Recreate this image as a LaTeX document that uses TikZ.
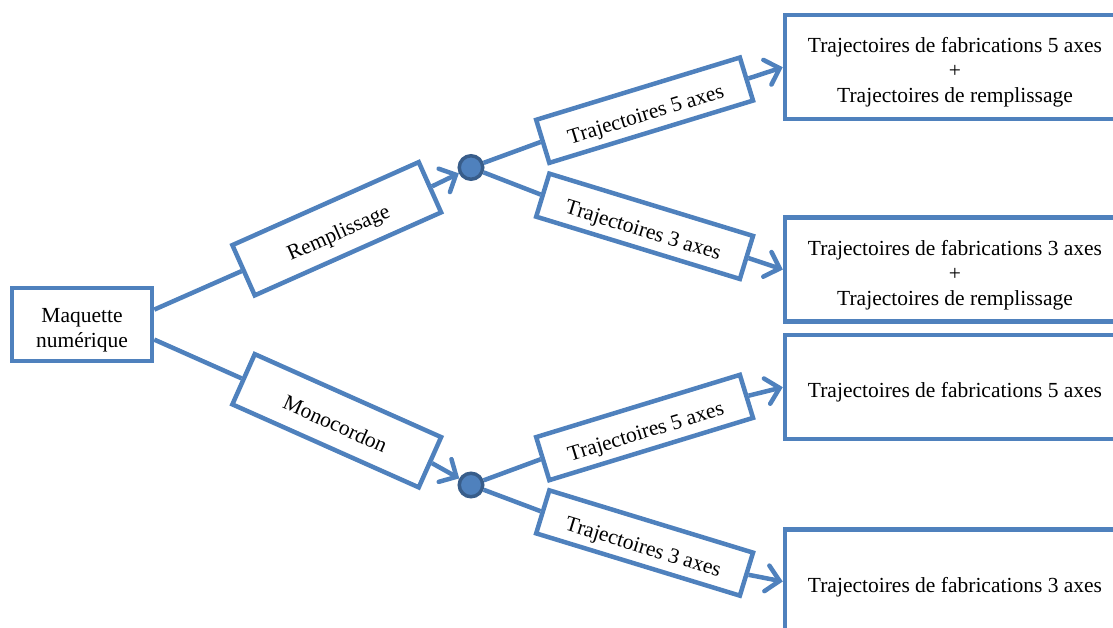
\documentclass[tikz,border=0pt]{standalone}
\usepackage{fontspec}
\setmainfont{Liberation Serif}
\usetikzlibrary{arrows.meta}
\definecolor{lblue}{HTML}{4F81BD}
\definecolor{dblue}{HTML}{385D8A}
\newcommand\wdtopstrut{\rule[-0.216em]{0pt}{\dimexpr1.107em+7pt\relax}}
\newcommand\wdstrut{\rule[-0.216em]{0pt}{1.107em}}
\begin{document}
\begin{tikzpicture}[x=1pt,y=-1pt,
  box/.style={draw=lblue,line width=4.5pt,fill=white,inner sep=0pt,align=center,font=\fontsize{21.5}{25}\selectfont,
    execute at begin node=\wdtopstrut, execute at end node=\wdstrut},
  rbox/.style={box,minimum width=204pt,minimum height=55pt},
  tbox/.style={box,minimum width=213pt,minimum height=45pt},
  fbox/.style={box,minimum width=340pt,minimum height=104pt},
  link/.style={draw=lblue,line width=4.5pt},
  arr/.style={link,-{Straight Barb[length=13pt,width=26pt,line cap=round]}},
  dotn/.style={circle,draw=dblue,fill=lblue,line width=3.5pt,minimum size=23.5pt,inner sep=0pt}]
\useasboundingbox (0,0) rectangle (1113,628);
\clip (0,0) rectangle (1113,628);
\node[box,minimum width=140pt,minimum height=73pt] (maq) at (82,324.6) {\wdtopstrut Maquette\\numérique\wdstrut};
\node[rbox,rotate=24] (rem) at (336.75,228.75) {Remplissage};
\node[rbox,rotate=-24] (mono) at (336.75,420.75) {Monocordon};
\node[dotn] (d1) at (471,167.5) {};
\node[dotn] (d2) at (471,485) {};
\node[tbox,rotate=17] (t5a) at (644.6,110.2) {Trajectoires 5 axes};
\node[tbox,rotate=-17] (t3a) at (644.6,226.3) {Trajectoires 3 axes};
\node[tbox,rotate=17] (t5b) at (644.6,427.5) {Trajectoires 5 axes};
\node[tbox,rotate=-17] (t3b) at (644.6,543) {Trajectoires 3 axes};
\node[fbox] (fa) at (955,67.2) {\wdtopstrut Trajectoires de fabrications 5 axes\\+\\Trajectoires de remplissage\wdstrut};
\node[fbox] (fb) at (955,269.5) {\wdtopstrut Trajectoires de fabrications 3 axes\\+\\Trajectoires de remplissage\wdstrut};
\node[fbox] (fc) at (955,387.2) {Trajectoires de fabrications 5 axes};
\node[fbox] (fd) at (955,581.5) {Trajectoires de fabrications 3 axes};
\draw[link] ([yshift=15pt]maq.east) -- (rem.west);
\draw[link] ([yshift=-15pt]maq.east) -- (mono.west);
\draw[arr] (rem.east) -- (d1);
\draw[arr] (mono.east) -- (d2);
\draw[link] (d1) -- (t5a.west);
\draw[link] (d1) -- (t3a.west);
\draw[link] (d2) -- (t5b.west);
\draw[link] (d2) -- (t3b.west);
\draw[arr] (t5a.east) -- (fa.west);
\draw[arr] (t3a.east) -- (fb.west);
\draw[arr] (t5b.east) -- (fc.west);
\draw[arr] (t3b.east) -- (fd.west);
\end{tikzpicture}
\end{document}
